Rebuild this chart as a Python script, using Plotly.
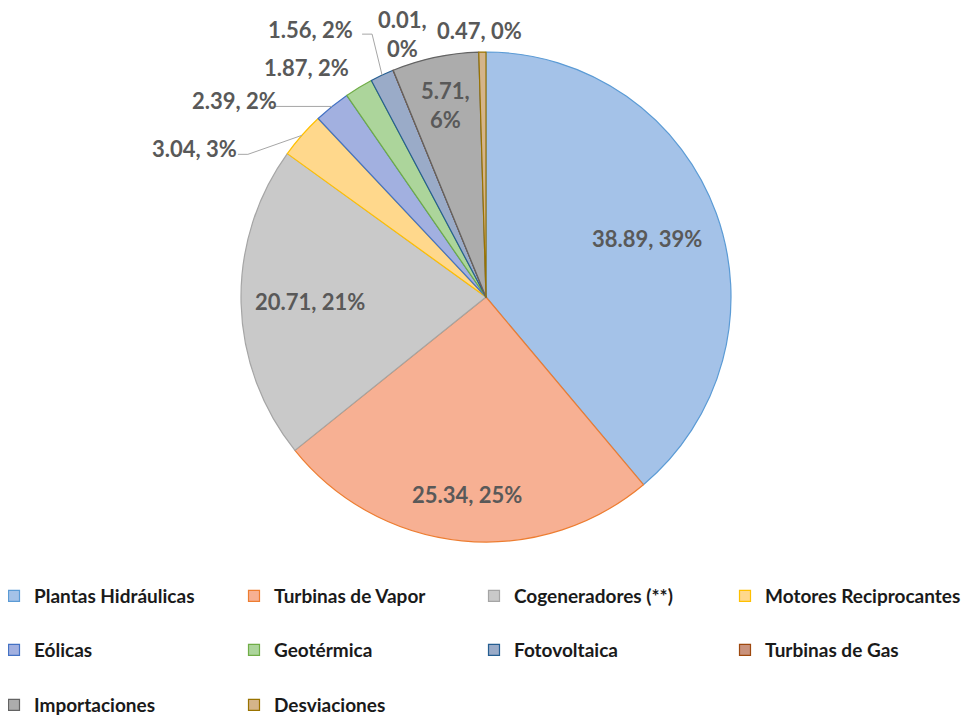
import math
import plotly.graph_objects as go

# ---------------- data ----------------
categories = ["Plantas Hidráulicas", "Turbinas de Vapor", "Cogeneradores (**)",
              "Motores Reciprocantes", "Eólicas", "Geotérmica", "Fotovoltaica",
              "Turbinas de Gas", "Importaciones", "Desviaciones"]
values = [38.89, 25.34, 20.71, 3.04, 2.39, 1.87, 1.56, 0.01, 5.71, 0.47]
percent_labels = ["39%", "25%", "21%", "3%", "2%", "2%", "2%", "0%", "6%", "0%"]

# ---------------- styles ----------------
fill_colors = ["#a4c2e8", "#f7b093", "#c9c9c9", "#ffd88c", "#a2b0e0",
               "#acd59b", "#9aabc8", "#c9927c", "#acacac", "#d4b48a"]
line_colors = ["#5b9bd5", "#ed7d31", "#a5a5a5", "#ffc000", "#4472c4",
               "#70ad47", "#255e91", "#9e480e", "#636363", "#997300"]

OFF = 8                      # page body margin
W, H = 972 - OFF, 717 - OFF  # figure size
MB = 150                     # bottom margin (legends live below the plot area)
HP = H - MB                  # plot-area height
CX, CY, R = 486, 297, 245    # pie centre and radius (page pixels)

label_font = dict(family="Lato", size=22, color="#595959")
legend_font = dict(family="Lato", size=19, color="#1a1a1a", weight="bold")

# label placement: ('in', radius fraction) or ('out', dx, dy, leader points relative to slice edge)
placement = {
    0: ("in", 0.70),
    1: ("in", 0.81),
    2: ("in", 0.72),
    3: ("out", -107, 13, [(-64, 19), (-54, 19)]),
    4: ("out", -98, -6, [(-62, 0)]),
    5: ("out", -52, -20, None),
    6: ("out", -72, -46, [(-20, -41), (-10, -41)]),
    7: ("out", 9, -36, None),
    8: ("in", 0.80),
    9: ("out", -3, -22, None),
}
two_line = {7, 8}


def to_paper(px, py):
    return (px - OFF) / W, (HP - (py - OFF)) / HP


fig = go.Figure()

x0, y0 = to_paper(CX - R, CY + R)
x1, y1 = to_paper(CX + R, CY - R)
fig.add_trace(go.Pie(
    labels=categories, values=values, sort=False, direction="clockwise",
    rotation=0, textinfo="none", hoverinfo="label+value+percent",
    marker=dict(colors=fill_colors, line=dict(color=line_colors, width=1.2)),
    domain=dict(x=[x0, x1], y=[y0, y1]),
    showlegend=False,
))

# data labels computed from slice angles
total = sum(values)
cum = 0.0
annotations = []
shapes = []
for i, v in enumerate(values):
    theta = 2 * math.pi * (cum + v / 2) / total
    cum += v
    s, c = math.sin(theta), math.cos(theta)
    sep = "<br>" if i in two_line else " "
    text = f"{v:.2f},{sep}{percent_labels[i]}"
    p = placement[i]
    if p[0] == "in":
        px, py = CX + p[1] * R * s, CY - p[1] * R * c
    else:
        ex, ey = CX + R * s, CY - R * c
        px, py = ex + p[1], ey + p[2]
        if p[3]:
            pts = [(ex + dx, ey + dy) for dx, dy in p[3]] + [(ex, ey)]
            path = "M " + " L ".join("{},{}".format(*to_paper(a, b)) for a, b in pts)
            shapes.append(dict(type="path", xref="paper", yref="paper", path=path,
                               line=dict(color="#a6a6a6", width=1)))
    x, y = to_paper(px, py)
    annotations.append(dict(x=x, y=y, xref="paper", yref="paper", text=f"<b>{text}</b>",
                            showarrow=False, font=label_font, align="center",
                            xanchor="center", yanchor="middle"))

# legend entries: rows for the first three columns, single legends for column four
legend_groups = [
    ("legend", [0, 1, 2], 34, 596),
    ("legend2", [4, 5, 6], 34, 650),
    ("legend3", [8, 9], 34, 705),
    ("legend4", [3], 765, 596),
    ("legend5", [7], 765, 650),
]
layout_legends = {}
for lname, items, text_x, row_y in legend_groups:
    for i in items:
        fig.add_trace(go.Scatter(
            x=[None], y=[None], mode="markers", name=categories[i], legend=lname,
            marker=dict(symbol="square", size=11, color=fill_colors[i],
                        line=dict(color=line_colors[i], width=1.2)),
            hoverinfo="skip",
        ))
    lx, ly = to_paper(text_x - 40, row_y)
    layout_legends[lname] = dict(orientation="h", font=legend_font, entrywidth=195,
                                 entrywidthmode="pixels", bgcolor="rgba(0,0,0,0)",
                                 xanchor="left", yanchor="middle", itemclick=False,
                                 itemdoubleclick=False, x=lx, y=ly)

fig.update_layout(
    width=W, height=H, margin=dict(l=0, r=0, t=0, b=MB, autoexpand=False),
    paper_bgcolor="white", plot_bgcolor="white",
    xaxis=dict(visible=False), yaxis=dict(visible=False),
    annotations=annotations, shapes=shapes,
    **layout_legends,
)

fig.write_html("out.html")
